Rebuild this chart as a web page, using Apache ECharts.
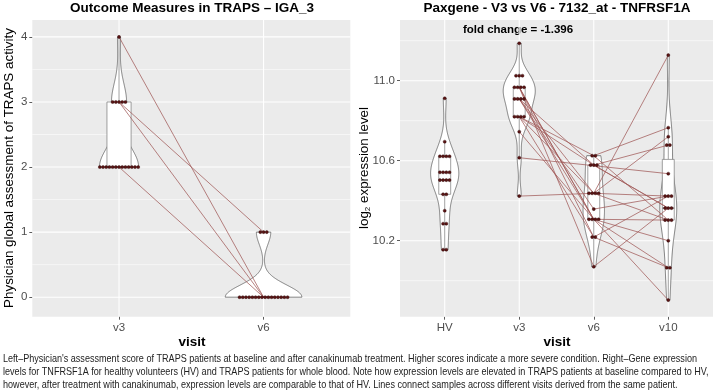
<!DOCTYPE html>
<html><head><meta charset="utf-8">
<script src="https://cdn.jsdelivr.net/npm/echarts@6/dist/echarts.min.js"></script>
<style>html,body{margin:0;padding:0;background:#fff}#c{width:714px;height:390px}</style>
</head><body><div id="c"></div>
<script>
// ---------- DATA ----------
const igaCategories = ['v3', 'v6'];
// one entry per patient (paired across visits)
const igaV3 = [4, 3, 3, 3, 3, 3, 2, 2, 2, 2, 2, 2, 2, 2, 2, 2, 2, 2, 2];
const igaV6 = [0, 1, 1, 1, 0, 0, 0, 0, 0, 0, 0, 0, 0, 0, 0, 0, 0, 0, 0];
const igaTicks = [0, 1, 2, 3, 4];
const igaMinor = [0.5, 1.5, 2.5, 3.5];

const geneCategories = ['HV', 'v3', 'v6', 'v10'];
const geneHV = [10.912, 10.695, 10.622, 10.622, 10.622, 10.622, 10.542, 10.542, 10.542, 10.542,
  10.503, 10.503, 10.503, 10.503, 10.432, 10.432, 10.350, 10.285, 10.285, 10.155, 10.155];
// one entry per TRAPS patient (null = visit missing)
const geneV3 = [11.187, 11.025, 11.025, 11.025, 10.967, 10.967, 10.967, 10.967, 10.909, 10.909,
  10.909, 10.909, 10.820, 10.820, 10.820, 10.820, 10.745, 10.615, 10.423, null, null, null, null];
const geneV6 = [null, null, null, null, 10.307, 10.218, 10.070, 10.307, 10.437, 10.358,
  10.578, 10.307, 10.437, 10.218, 10.625, 10.578, 10.307, null, 10.437, 10.625, 10.578, 10.437, null];
const geneV10 = [null, null, null, null, 10.303, 10.065, 10.363, 9.903, 10.720, 10.423,
  10.678, 10.200, 10.303, 10.423, 10.765, 10.363, 10.065, 10.535, 10.423, 10.303, 10.363, 11.128, 10.678];
const geneTicks = [10.2, 10.6, 11.0];
const geneMinor = [10.0, 10.4, 10.8, 11.2];
const foldChangeText = 'fold change = -1.396';

// ---------- HELPERS ----------
function q7(s, p) { const h = (s.length - 1) * p, lo = Math.floor(h), hi = Math.ceil(h); return s[lo] + (h - lo) * (s[hi] - s[lo]); }
function nrd0(s) {
  const n = s.length, m = s.reduce((a, b) => a + b, 0) / n;
  const sd = Math.sqrt(s.reduce((a, b) => a + (b - m) * (b - m), 0) / (n - 1));
  let lo = Math.min(sd, (q7(s, 0.75) - q7(s, 0.25)) / 1.34);
  if (!lo) lo = sd || Math.abs(s[0]) || 1;
  return 0.9 * lo * Math.pow(n, -0.2);
}
function makeGroups(arrs) {
  return arrs.map((arr, i) => {
    const vals = arr.filter(v => v != null).sort((a, b) => a - b);
    const bw = nrd0(vals), lo = vals[0], hi = vals[vals.length - 1], N = 256;
    const dens = [];
    for (let k = 0; k < N; k++) {
      const y = lo + (hi - lo) * k / (N - 1);
      let d = 0; vals.forEach(v => { const z = (y - v) / bw; d += Math.exp(-0.5 * z * z); });
      dens.push([y, d / (vals.length * bw * Math.sqrt(2 * Math.PI))]);
    }
    const q1 = q7(vals, 0.25), med = q7(vals, 0.5), q3 = q7(vals, 0.75), iqr = q3 - q1;
    const wl = Math.min(...vals.filter(v => v >= q1 - 1.5 * iqr)), wh = Math.max(...vals.filter(v => v <= q3 + 1.5 * iqr));
    const rows = [];
    vals.forEach(v => { const r = rows.find(r => Math.abs(r[1] - v) < 1e-9); if (r) r[2]++; else rows.push([i + 1, v, 1]); });
    return { pos: i + 1, vals, dens, q1, med, q3, wl, wh, rows };
  });
}
// keep each distinct patient path once (identical paths overlap exactly)
function uniquePaths(paths) {
  const seen = new Set();
  return paths.map(pt => pt.filter(q => q[1] != null)).filter(pt => {
    if (pt.length < 2) return false;
    const key = JSON.stringify(pt);
    if (seen.has(key)) return false;
    seen.add(key); return true;
  });
}

const GRID_BG = '#EBEBEB';
const VIOLIN_STROKE = '#333333';
const BOX_STROKE = '#7a7a7a';
const DOT_FILL = '#5a1414';
const DOT_STROKE = '#2a0505';
const LINE_COLOR = '#a05a58';

function panelSeries(pi, cats, groups, paths, ticks, minor, violinWidth, boxWidth, dotD, xMax, yExt) {
  const maxD = Math.max(...groups.map(g => Math.max(...g.dens.map(d => d[1]))));
  const common = { type: 'custom', xAxisIndex: pi, yAxisIndex: pi, silent: true, animation: false };
  const midY = (yExt[0] + yExt[1]) / 2;
  const gridItems = [];
  ticks.forEach(v => gridItems.push([1.5, v, 0, 1.1]));
  minor.forEach(v => gridItems.push([1.5, v, 0, 0.55]));
  cats.forEach((c, i) => gridItems.push([i + 1, midY, 1, 1.1]));
  return [
    Object.assign({}, common, { z: 1, data: gridItems, renderItem(p, api) {
      const it = gridItems[p.dataIndex];
      let a, b;
      if (it[2] === 0) { a = api.coord([0.4, it[1]]); b = api.coord([xMax, it[1]]); }
      else { a = api.coord([it[0], yExt[0]]); b = api.coord([it[0], yExt[1]]); }
      return { type: 'line', shape: { x1: a[0], y1: a[1], x2: b[0], y2: b[1] }, style: { stroke: '#fff', lineWidth: it[3] } };
    } }),
    Object.assign({}, common, { z: 2, data: groups.map(g => [g.pos, g.med]), renderItem(p, api) {
      const g = groups[p.dataIndex];
      const left = [], right = [];
      g.dens.forEach(([y, d]) => {
        const hw = d / maxD * violinWidth / 2;
        left.push(api.coord([g.pos - hw, y])); right.push(api.coord([g.pos + hw, y]));
      });
      return { type: 'polygon', shape: { points: left.concat(right.reverse()) }, style: { fill: '#fff', stroke: VIOLIN_STROKE, lineWidth: 0.6 } };
    } }),
    Object.assign({}, common, { z: 3, data: groups.map(g => [g.pos, g.med]), renderItem(p, api) {
      const g = groups[p.dataIndex], hw = boxWidth / 2;
      const c = (x, y) => api.coord([x, y]);
      const tl = c(g.pos - hw, g.q3), br = c(g.pos + hw, g.q1);
      const w1 = c(g.pos, g.q3), w2 = c(g.pos, g.wh), w3 = c(g.pos, g.q1), w4 = c(g.pos, g.wl);
      const m1 = c(g.pos - hw, g.med), m2 = c(g.pos + hw, g.med);
      const st = { stroke: BOX_STROKE, lineWidth: 0.7 };
      const ch = [];
      if (g.wh > g.q3) ch.push({ type: 'line', shape: { x1: w1[0], y1: w1[1], x2: w2[0], y2: w2[1] }, style: st });
      if (g.wl < g.q1) ch.push({ type: 'line', shape: { x1: w3[0], y1: w3[1], x2: w4[0], y2: w4[1] }, style: st });
      ch.push({ type: 'rect', shape: { x: tl[0], y: tl[1], width: br[0] - tl[0], height: br[1] - tl[1] }, style: { fill: '#fff', stroke: BOX_STROKE, lineWidth: 0.7 } });
      ch.push({ type: 'line', shape: { x1: m1[0], y1: m1[1], x2: m2[0], y2: m2[1] }, style: { stroke: BOX_STROKE, lineWidth: 1.3 } });
      return { type: 'group', children: ch };
    } }),
    Object.assign({}, common, { z: 4, data: paths.map(pt => [pt[0][0], pt[0][1]]), renderItem(p, api) {
      const pts = paths[p.dataIndex].map(q => api.coord(q));
      return { type: 'polyline', shape: { points: pts }, style: { stroke: LINE_COLOR, lineWidth: 0.75, fill: null } };
    } }),
    Object.assign({}, common, { z: 5, data: [].concat(...groups.map(g => g.rows)), renderItem(p, api) {
      const pos = api.value(0), v = api.value(1), k = api.value(2);
      const c = api.coord([pos, v]);
      const ch = [];
      for (let j = 0; j < k; j++) ch.push({ type: 'circle', shape: { cx: c[0] + (j - (k - 1) / 2) * dotD, cy: c[1], r: dotD / 2 - 0.05 }, style: { fill: DOT_FILL, stroke: DOT_STROKE, lineWidth: 0.4 } });
      return { type: 'group', children: ch };
    } })
  ];
}

const igaGroups = makeGroups([igaV3, igaV6]);
const igaPaths = uniquePaths(igaV3.map((v, i) => [[1, v], [2, igaV6[i]]]));
const geneGroups = makeGroups([geneHV, geneV3, geneV6, geneV10]);
const genePaths = uniquePaths(geneV3.map((v, i) => [[2, v], [3, geneV6[i]], [4, geneV10[i]]]));

const tickLabelStyle = { color: '#4D4D4D', fontSize: 11.5, fontFamily: 'Liberation Sans, Arial, sans-serif' };
function xAxisOpt(gi, cats, max) {
  return { type: 'value', gridIndex: gi, min: 0.4, max: max,
    axisLine: { show: false, onZero: false }, splitLine: { show: false },
    axisTick: { show: true, length: 3, customValues: cats.map((c, i) => i + 1), lineStyle: { color: '#333', width: 0.8 } },
    axisLabel: Object.assign({ customValues: cats.map((c, i) => i + 1), margin: 5, formatter: v => cats[Math.round(v) - 1] }, tickLabelStyle) };
}
function yAxisOpt(gi, ticks, min, max, fmt) {
  return { type: 'value', gridIndex: gi, min: min, max: max,
    axisLine: { show: false, onZero: false }, splitLine: { show: false },
    axisTick: { show: true, length: 3, customValues: ticks, lineStyle: { color: '#333', width: 0.8 } },
    axisLabel: Object.assign({ customValues: ticks, margin: 5, formatter: fmt }, tickLabelStyle) };
}

const chart = echarts.init(document.getElementById('c'), null, { renderer: 'canvas' });
const capFontSize = 10.4;
const capFont = capFontSize + 'px Liberation Sans, Arial, sans-serif';
const captionLines = [
  "Left\u2013Physician's assessment score of TRAPS patients at baseline and after canakinumab treatment. Higher scores indicate a more severe condition. Right\u2013Gene expression",
  "levels for TNFRSF1A for healthy volunteers (HV) and TRAPS patients for whole blood. Note how expression levels are elevated in TRAPS patients at baseline compared to HV,",
  "however, after treatment with canakinumab, expression levels are comparable to that of HV. Lines connect samples across different visits derived from the same patient."
];
const captionY = [359, 372, 385];
const measureCtx = document.createElement('canvas').getContext('2d');
measureCtx.font = capFont;
const capScale = 694 / measureCtx.measureText(captionLines[0]).width;

const igaYExt = [-0.3, 4.26], geneYExt = [9.82, 11.3035];

chart.setOption({
  animation: false,
  grid: [
    { left: 32.3, top: 20, width: 318, height: 296.7, show: true, backgroundColor: GRID_BG, borderWidth: 0 },
    { left: 400, top: 20, width: 313, height: 296.7, show: true, backgroundColor: GRID_BG, borderWidth: 0 }
  ],
  xAxis: [xAxisOpt(0, igaCategories, 2.6), xAxisOpt(1, geneCategories, 4.6)],
  yAxis: [yAxisOpt(0, igaTicks, igaYExt[0], igaYExt[1], v => String(Math.round(v))), yAxisOpt(1, geneTicks, geneYExt[0], geneYExt[1], v => v.toFixed(1))],
  series: [].concat(
    panelSeries(0, igaCategories, igaGroups, igaPaths, igaTicks, igaMinor, 0.53, 0.167, 3.2, 2.6, igaYExt),
    panelSeries(1, geneCategories, geneGroups, genePaths, geneTicks, geneMinor, 0.43, 0.16, 3.2, 4.6, geneYExt)
  ),
  graphic: [
    { type: 'text', x: 192, y: 8, style: { text: 'Outcome Measures in TRAPS \u2013 IGA_3', align: 'center', verticalAlign: 'middle', font: 'bold 13.5px Liberation Sans, Arial, sans-serif', fill: '#000' } },
    { type: 'text', x: 557, y: 8, style: { text: 'Paxgene - V3 vs V6 - 7132_at - TNFRSF1A', align: 'center', verticalAlign: 'middle', font: 'bold 13.5px Liberation Sans, Arial, sans-serif', fill: '#000' } },
    { type: 'text', x: 518, y: 29.5, style: { text: foldChangeText, align: 'center', verticalAlign: 'middle', font: 'bold 11.5px Liberation Sans, Arial, sans-serif', fill: '#000' } },
    { type: 'text', x: 192, y: 342, style: { text: 'visit', align: 'center', verticalAlign: 'middle', font: 'bold 13.5px Liberation Sans, Arial, sans-serif', fill: '#000' } },
    { type: 'text', x: 557, y: 342, style: { text: 'visit', align: 'center', verticalAlign: 'middle', font: 'bold 13.5px Liberation Sans, Arial, sans-serif', fill: '#000' } },
    { type: 'text', x: 9, y: 168, rotation: Math.PI / 2, style: { text: 'Physician global assessment of TRAPS activity', align: 'center', verticalAlign: 'middle', font: '13.4px Liberation Sans, Arial, sans-serif', fill: '#000' } },
    { type: 'text', x: 364, y: 168, rotation: Math.PI / 2, style: { text: 'log{s|2} expression level', align: 'center', verticalAlign: 'middle', font: '13.4px Liberation Sans, Arial, sans-serif', fill: '#000',
      rich: { s: { fontSize: 8, fontFamily: 'Liberation Sans, Arial, sans-serif', fill: '#000', padding: [7, 0, 0, 0] } } } }
  ].concat(captionLines.map((t, i) => ({ type: 'text', x: 3, y: captionY[i], scaleX: capScale, originX: 0, style: { text: t, align: 'left', verticalAlign: 'middle', font: capFont, fill: '#222' } })))
});
</script></body></html>
